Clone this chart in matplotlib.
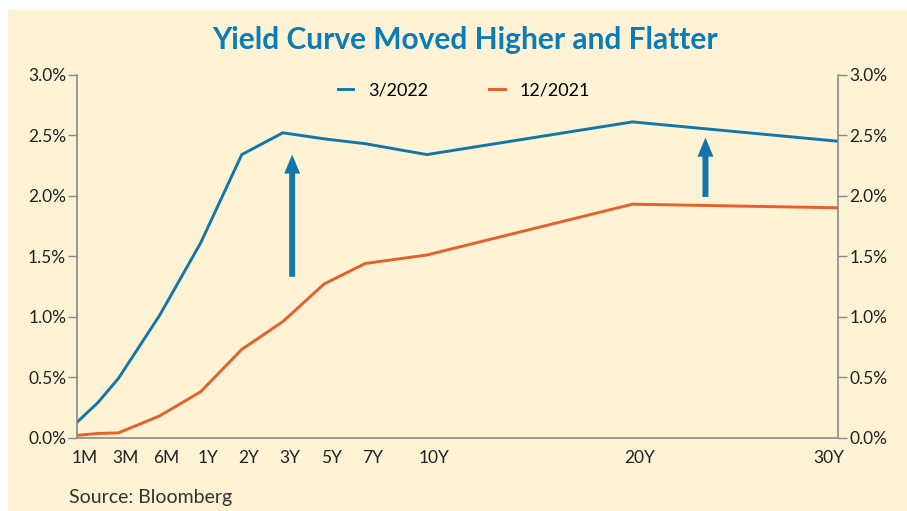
import numpy as np
import matplotlib
matplotlib.use('Agg')
import matplotlib.pyplot as plt
from matplotlib.patches import Rectangle
from matplotlib.transforms import ScaledTranslation

plt.rcParams['font.family'] = ['Lato', 'DejaVu Sans']

# tenors and where they sit on the chart's (uneven) horizontal scale
tenors = ['1M', '2M', '3M', '6M', '1Y', '2Y', '3Y', '5Y', '7Y', '10Y', '20Y', '30Y']
tenor_pos = [0, 1, 2, 4, 6, 8, 10, 12, 14, 17, 27, 37]
tick_labels = ['1M', '3M', '6M', '1Y', '2Y', '3Y', '5Y', '7Y', '10Y', '20Y', '30Y']

# yields in %
mar_2022 = [0.13, 0.29, 0.49, 1.01, 1.61, 2.34, 2.52, 2.47, 2.43, 2.34, 2.61, 2.45]
dec_2021 = [0.02, 0.035, 0.04, 0.18, 0.38, 0.73, 0.96, 1.27, 1.44, 1.51, 1.93, 1.90]

# arrows: (tenor position, from, to)
arrows = [(10.45, 1.33, 2.34), (30.55, 1.99, 2.48)]

blue = '#1176a8'
orange = '#e5602a'
cream = '#fef2d4'
grey = '#8a8a8a'

fig = plt.figure(figsize=(9.07, 5.11), dpi=100, facecolor='white')
fig.patches.append(Rectangle((8/907, 0), 1, 501/511, transform=fig.transFigure,
                             facecolor=cream, edgecolor='none', zorder=-10))

ax = fig.add_axes([0.0852, 0.1434, 0.8388, 0.7104])
ax.set_facecolor('none')

ax.plot(tenor_pos, mar_2022, color=blue, lw=2.1, label='3/2022', solid_joinstyle='miter')
ax.plot(tenor_pos, dec_2021, color=orange, lw=2.1, label='12/2021', solid_joinstyle='miter')

for x, y0, y1 in arrows:
    ax.annotate('', xy=(x, y1), xytext=(x, y0),
                arrowprops=dict(arrowstyle='simple,head_width=1.15,head_length=1.37,tail_width=0.43',
                                mutation_scale=10, color=blue, lw=0, shrinkA=0, shrinkB=0))

ax.set_xlim(0, 37)
ax.set_ylim(0, 3.0)

yt = np.arange(0, 3.01, 0.5)
ax.set_yticks(yt)
ax.set_yticklabels(['%.1f%%' % v for v in yt])
ax.tick_params(axis='y', which='both', length=6.5, width=1, color=grey, pad=1.5,
               labelsize=12.5, labelcolor='#222222', left=True, right=True,
               labelleft=True, labelright=True)

pos_lookup = dict(zip(tenors, tenor_pos))
ax.set_xticks([pos_lookup[t] for t in tick_labels])
ax.set_xticklabels(tick_labels)
ax.tick_params(axis='x', length=0, pad=9, labelsize=12.5, labelcolor='#222222')
for i, lab in enumerate(ax.get_xticklabels()):
    dx = -9 if i == len(tick_labels) - 1 else 7
    lab.set_transform(lab.get_transform() + ScaledTranslation(dx/100, 0, fig.dpi_scale_trans))

for s in ['left', 'right', 'bottom']:
    ax.spines[s].set_color(grey)
    ax.spines[s].set_linewidth(1.2)
ax.spines['top'].set_visible(False)

ax.legend(loc='center', bbox_to_anchor=(0.508, 0.956), ncol=2, frameon=False,
          fontsize=13, handlelength=0.85, handletextpad=0.8, columnspacing=3.4)

fig.text(0.513, 0.922, 'Yield Curve Moved Higher and Flatter', ha='center', va='center',
         fontsize=21.5, fontweight='bold', color='#0a7cb8')
fig.text(69/907, 1 - 498/511, 'Source: Bloomberg', ha='left', va='center',
         fontsize=14, color='#333333')

fig.savefig('out.png', dpi=100, facecolor=fig.get_facecolor())
